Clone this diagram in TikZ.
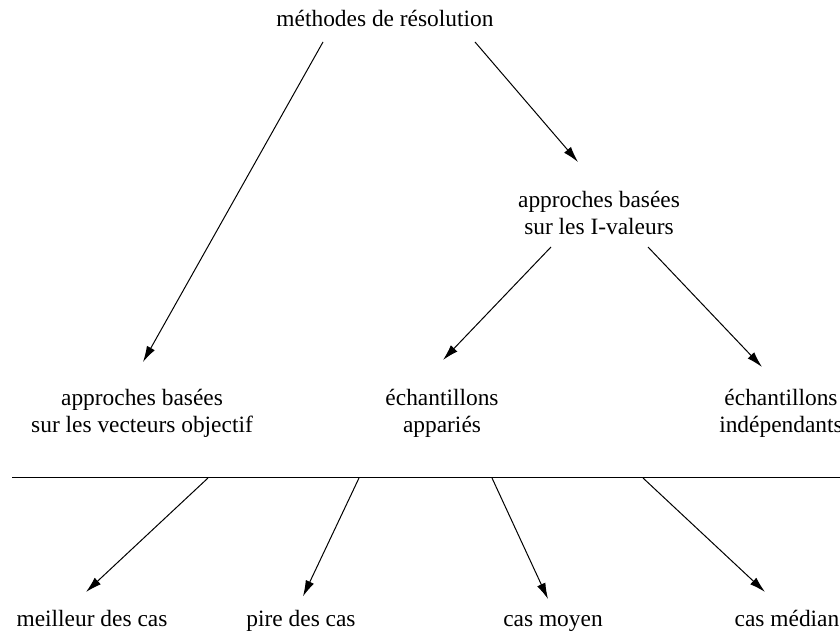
\documentclass[tikz,border=0pt]{standalone}
\usepackage{fontspec}
\setmainfont{Liberation Serif}
\usepackage{tikz}
\usetikzlibrary{arrows.meta, positioning, calc}

\begin{document}
\begin{tikzpicture}[
    x=0.5pt, y=-0.5pt,
    etiq/.style={inner sep=0pt, align=center, font=\fontsize{11.7}{13.5}\selectfont},
    cas/.style={etiq, anchor=base},
    fleche/.style={-{Latex[length=8pt, width=4.5pt]}, line width=0.5pt},
    >=stealth
]
    \clip (0,0) rectangle (840,635);

    % Nœuds principaux
    \node[etiq] (meth) at (385,18) {méthodes de résolution};
    \node[etiq] (ival) at (599,213) {approches basées\\sur les I-valeurs};
    \node[etiq] (vect) at (142,413) {approches basées\\sur les vecteurs objectif};
    \node[etiq] (appa) at (442,413) {échantillons\\appariés};
    \node[etiq] (inde) at (781,413) {échantillons\\indépendants};

    % Cas (même ligne de base)
    \node[cas] (meil) at (92,626) {meilleur des cas};
    \node[cas] (pire) at (301,626) {pire des cas};
    \node[cas] (moy) at (553,626) {cas moyen};
    \node[cas] (med) at (787,626) {cas médian};

    % Barre horizontale
    \coordinate (barG) at (12,478);
    \coordinate (barD) at (840,478);
    \draw[line width=0.5pt] (barG) -- (barD);
    \coordinate (b1) at (208,478);
    \coordinate (b2) at (359,478);
    \coordinate (b3) at (492,478);
    \coordinate (b4) at (643,478);

    % Flèches du haut
    \draw[fleche] ($(meth)+(-62,24)$) -- ($(vect)+(1,-51)$);
    \draw[fleche] ($(meth)+(90,24)$) -- ($(ival)+(-21,-51)$);
    \draw[fleche] ($(ival)+(-48,34)$) -- ($(appa)+(1,-53)$);
    \draw[fleche] ($(ival)+(49,34)$) -- ($(inde)+(-19,-46)$);

    % Flèches vers les cas
    \draw[fleche] (b1) -- ($(meil)+(-6,-26)$);
    \draw[fleche] (b2) -- ($(pire)+(2,-24)$);
    \draw[fleche] (b3) -- ($(moy)+(-5,-24)$);
    \draw[fleche] (b4) -- ($(med)+(-22,-26)$);

\end{tikzpicture}
\end{document}
